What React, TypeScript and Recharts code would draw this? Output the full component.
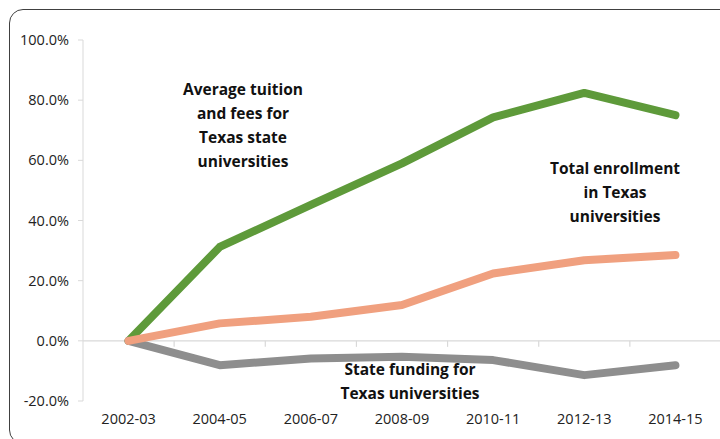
import { LineChart, Line, XAxis, YAxis, ReferenceLine } from 'recharts';

const years = ['2002-03', '2004-05', '2006-07', '2008-09', '2010-11', '2012-13', '2014-15'];
const tuition = [0, 31.2, 45.2, 59, 74.3, 82.4, 75];
const enrollment = [0, 5.8, 8, 11.9, 22.4, 26.8, 28.5];
const stateFunding = [0, -8.1, -5.9, -5.3, -6.4, -11.4, -8.1];
const yTicks = [-20, 0, 20, 40, 60, 80, 100];

const data = years.map((year, i) => ({
  x: i,
  year,
  tuition: tuition[i],
  enrollment: enrollment[i],
  stateFunding: stateFunding[i],
}));

const font = '"Open Sans", "Noto Sans", sans-serif';
const axisGray = '#d9d9d9';

const noteStyle: React.CSSProperties = {
  position: 'absolute',
  transform: 'translateX(-50%)',
  textAlign: 'center',
  fontFamily: font,
  fontWeight: 700,
  fontSize: 15.5,
  lineHeight: '24px',
  color: '#111',
  whiteSpace: 'nowrap',
};

export default function App() {
  return (
    <div
      style={{
        position: 'absolute',
        left: 0,
        top: 0,
        width: 720,
        height: 439,
        overflow: 'hidden',
        background: '#fff',
      }}
    >
      <div
        style={{
          position: 'absolute',
          left: 9,
          top: 9,
          width: 760,
          height: 433,
          border: '1.5px solid #404040',
          borderRadius: 14,
        }}
      />
      <div style={{ position: 'absolute', left: 0, top: 0 }}>
        <LineChart
          width={721}
          height={439}
          data={data}
          margin={{ top: 40, right: 0, bottom: 8, left: 0 }}
        >
          <XAxis
            dataKey="x"
            type="number"
            domain={[-0.5, 6.5]}
            ticks={[0, 1, 2, 3, 4, 5, 6]}
            tickFormatter={(v: number) => years[v]}
            axisLine={false}
            tickLine={false}
            tickSize={0}
            tickMargin={13}
            height={30}
            tick={{ fontSize: 14.5, fill: '#222', fontFamily: font }}
          />
          <YAxis
            domain={[-20, 100]}
            ticks={yTicks}
            tickFormatter={(v: number) => `${v.toFixed(1)}%`}
            width={83}
            axisLine={{ stroke: axisGray }}
            tickLine={{ stroke: axisGray }}
            tickSize={5}
            tickMargin={9}
            tick={{ fontSize: 14.5, fill: '#222', fontFamily: font }}
          />
          <ReferenceLine y={0} stroke={axisGray} strokeWidth={1.2} />
          {[0.5, 1.5, 2.5, 3.5, 4.5, 5.5].map((b) => (
            <ReferenceLine
              key={b}
              segment={[
                { x: b, y: 0 },
                { x: b, y: -2 },
              ]}
              stroke={axisGray}
              strokeWidth={1.2}
            />
          ))}
          <Line
            type="linear"
            dataKey="tuition"
            stroke="#5e9a3a"
            strokeWidth={8}
            strokeLinecap="round"
            strokeLinejoin="round"
            dot={false}
            isAnimationActive={false}
          />
          <Line
            type="linear"
            dataKey="stateFunding"
            stroke="#8e8e8e"
            strokeWidth={8}
            strokeLinecap="round"
            strokeLinejoin="round"
            dot={false}
            isAnimationActive={false}
          />
          <Line
            type="linear"
            dataKey="enrollment"
            stroke="#f0a07f"
            strokeWidth={8}
            strokeLinecap="round"
            strokeLinejoin="round"
            dot={false}
            isAnimationActive={false}
          />
        </LineChart>
      </div>
      <div style={{ ...noteStyle, left: 243, top: 77 }}>
        Average tuition
        <br />
        and fees for
        <br />
        Texas state
        <br />
        universities
      </div>
      <div style={{ ...noteStyle, left: 615, top: 156 }}>
        Total enrollment
        <br />
        in Texas
        <br />
        universities
      </div>
      <div style={{ ...noteStyle, left: 410, top: 357 }}>
        State funding for
        <br />
        Texas universities
      </div>
    </div>
  );
}
